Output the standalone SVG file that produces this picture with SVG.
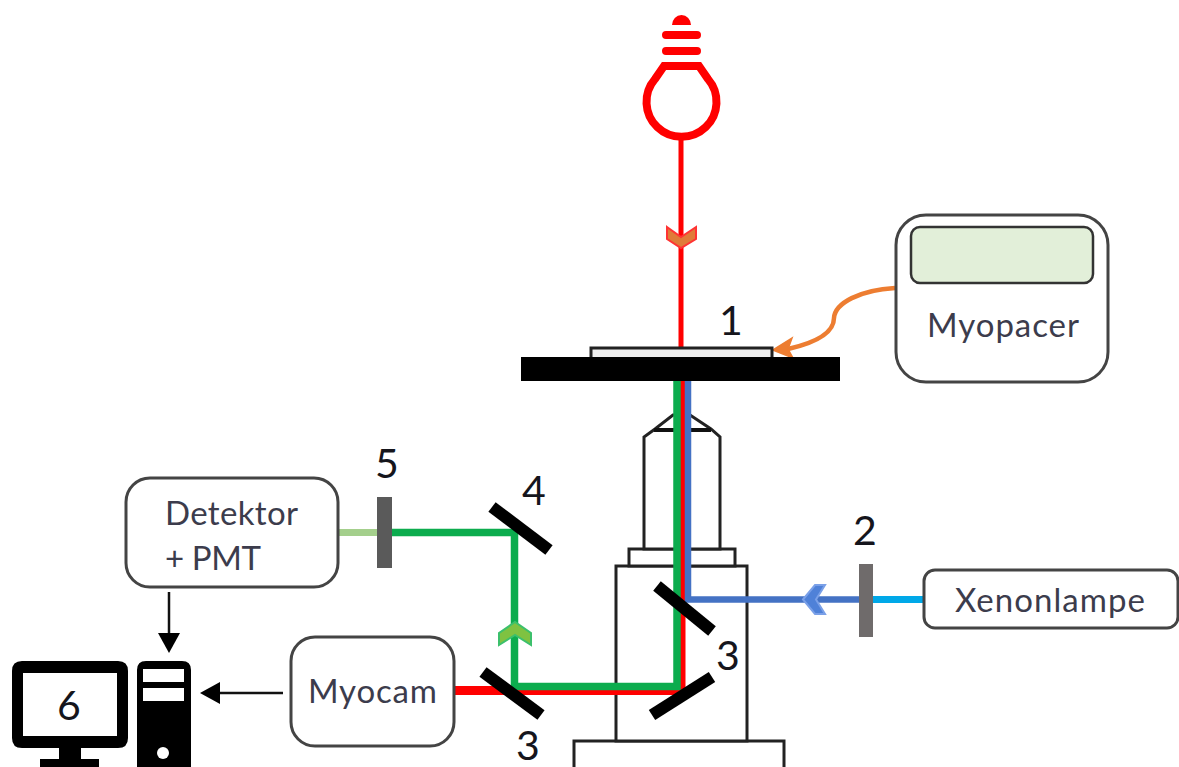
<svg xmlns="http://www.w3.org/2000/svg" width="1179" height="767" viewBox="0 0 1179 767">
<defs><style>
text{font-family:Lato,"Open Sans","Liberation Sans",sans-serif}
.l{font-size:41px;fill:#15151c}.b{font-size:33px;fill:#3c3c4c}
.box{fill:#fff;stroke:#444;stroke-width:3}
.o{fill:#fff;stroke:#222;stroke-width:3}
.m{stroke:#000;stroke-width:12;fill:none}
</style></defs>
<rect width="1179" height="767" fill="#fff"/>
<g id="microscope">
<rect class="o" x="574" y="741" width="210" height="32"/>
<rect class="o" x="616" y="566" width="131" height="175"/>
<rect class="o" x="629" y="549" width="106" height="17"/>
<path class="o" d="M644 549V437L655 429L673 415H690L711 429L720 437V549Z"/>
<path d="M654 430H711" stroke="#111" stroke-width="4" fill="none"/>
</g>
<g id="connectors" fill="none">
<path d="M681 140V348" stroke="#f00" stroke-width="5"/>
<path d="M682.500 381V691" stroke="#f00" stroke-width="6"/>
<path d="M500 691.500H684" stroke="#f00" stroke-width="7"/>
<path d="M454 690.500H500" stroke="#f00" stroke-width="9"/>
<path d="M688 381V599.500H860" stroke="#4472c4" stroke-width="6.500"/>
<path d="M872 599.500H924" stroke="#00a8e8" stroke-width="7"/>
<path d="M677 381V686.500H514.500V532.500H385" stroke="#0cac4e" stroke-width="7.500"/>
<path d="M338 532.500H378" stroke="#a4cf8c" stroke-width="7"/>
<path d="M895 288C860 290 835 303 834 318C834 335 810 344 788 349" stroke="#ed7d31" stroke-width="4.500"/>
<path d="M773 350L792 338L788 349L793 358Z" fill="#ed7d31" stroke="#ed7d31" stroke-width="1.500"/>
<path d="M169 592V638" stroke="#111" stroke-width="2.500"/>
<path d="M158 633H180L169 653Z" fill="#000"/>
<path d="M283 693H218" stroke="#111" stroke-width="2.500"/>
<path d="M200 693L220 682V704Z" fill="#000"/>
<path d="M667 227L681 237L696 227V239L681 248L667 239Z" fill="#e07b39" stroke="#f33" stroke-width="2"/>
<path d="M499 645V633L515 622L531 633V645L515 635Z" fill="#7fc241" stroke="#3cc06c" stroke-width="2"/>
<path d="M803 599.500L815 585H825L816 599.500L825 614H815Z" fill="#4f81d8" stroke="#7aa0e8" stroke-width="2"/>
</g>
<g id="lamp">
<path d="M664 66L655 79A35 35 0 1 0 708 79L699 66Z" fill="#fff" stroke="#f00" stroke-width="8"/>
<path d="M666 35H697M666 51H697" stroke="#f00" stroke-width="8" stroke-linecap="round"/>
<path d="M672 25A9.500 10 0 0 1 691 25Z" fill="#f00"/>
</g>
<g id="stage">
<rect x="591" y="348" width="181" height="12" fill="#eee" stroke="#222" stroke-width="3"/>
<rect x="521" y="357" width="319" height="24" fill="#000"/>
<text class="l" x="719" y="335">1</text>
</g>
<g id="myopacer">
<rect class="box" x="896" y="215" width="212" height="167" rx="30"/>
<rect x="911" y="227" width="182" height="56" rx="9" fill="#e2efd9" stroke="#333" stroke-width="2.500"/>
<text class="b" x="927" y="337" textLength="152">Myopacer</text>
</g>
<g id="detektor">
<rect class="box" x="126" y="478" width="212" height="109" rx="24"/>
<text class="b" x="165" y="525" textLength="133">Detektor</text>
<text class="b" x="165" y="570" textLength="96">+ PMT</text>
</g>
<g id="filter5"><rect x="377" y="497" width="15" height="71" fill="#5a5a5a"/><text class="l" x="375" y="478">5</text></g>
<g id="mirror4"><path class="m" d="M492 507L549 550"/><text class="l" x="522" y="505">4</text></g>
<g id="mirror3a"><path class="m" d="M657 586L712 631"/><text class="l" x="716" y="670">3</text></g>
<g id="mirror3b"><path class="m" d="M652 715L712 677"/></g>
<g id="mirror3c"><path class="m" d="M483 672L541 715"/><text class="l" x="516" y="760">3</text></g>
<g id="filter2"><rect x="859" y="564" width="14" height="73" fill="#6f6b6b"/><text class="l" x="853" y="545">2</text></g>
<g id="xenon">
<rect class="box" x="924" y="570" width="254" height="58" rx="11"/>
<text class="b" x="955" y="612" textLength="190">Xenonlampe</text>
</g>
<g id="myocam">
<rect class="box" x="291" y="637" width="163" height="109" rx="24"/>
<text class="b" x="308" y="703" textLength="129">Myocam</text>
</g>
<g id="computer">
<path d="M22 661H118Q128 661 128 671V738Q128 748 118 748H81V759H99V767H40V759H59V748H22Q12 748 12 738V671Q12 661 22 661ZM23 673V736H117V673Z" fill-rule="evenodd" fill="#000"/>
<text class="l" x="57" y="720">6</text>
<path d="M146 661H182Q191 661 191 670V767H137V670Q137 661 146 661ZM143 669V682H184V669ZM143 688V701H184V688Z" fill-rule="evenodd" fill="#000"/>
<circle cx="163" cy="753" r="6" fill="#fff"/>
</g>
</svg>
